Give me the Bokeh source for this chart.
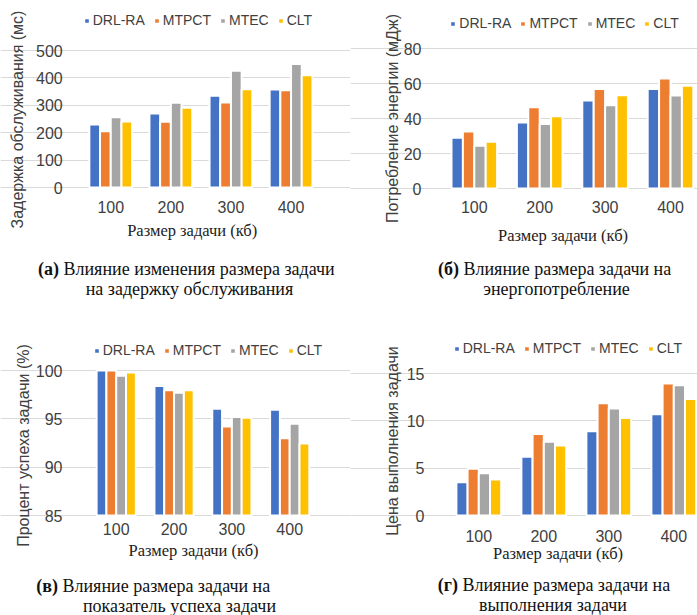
from bokeh.plotting import figure
from bokeh.models import (Range1d, FixedTicker, Legend, LegendItem, ColumnDataSource, Label)
from bokeh.transform import dodge
from bokeh.layouts import column, row
from bokeh.embed import file_html
from bokeh.resources import INLINE

sizes = [100, 200, 300, 400]
series = ["DRL-RA", "MTPCT", "MTEC", "CLT"]
colors = ["#4472C4", "#ED7D31", "#A5A5A5", "#FFC000"]

delay_drl = [230, 270, 335, 358]
delay_mtpct = [205, 240, 310, 355]
delay_mtec = [256, 309, 426, 451]
delay_clt = [241, 291, 359, 410]

energy_drl = [29.0, 37.7, 50.3, 56.8]
energy_mtpct = [32.6, 46.5, 56.8, 62.9]
energy_mtec = [24.4, 36.8, 47.6, 53.1]
energy_clt = [26.7, 41.3, 53.3, 58.7]

success_drl = [100.0, 98.4, 96.05, 95.95]
success_mtpct = [100.0, 97.95, 94.2, 93.0]
success_mtec = [99.45, 97.7, 95.2, 94.5]
success_clt = [99.8, 97.95, 95.1, 92.45]

cost_drl = [3.5, 6.2, 8.9, 10.7]
cost_mtpct = [4.95, 8.6, 11.85, 13.95]
cost_mtec = [4.45, 7.8, 11.3, 13.75]
cost_clt = [3.8, 7.4, 10.3, 12.3]

x_title = "Размер задачи (кб)"

SANS = "Liberation Sans"
SERIF = "Liberation Serif"
TXT = "#404040"
GRID = "#D9D9D9"


def panel(vals, ylab, yticks, cap_bold, cap1, cap2, g):
    W, H = g["W"], g["H"]
    # pixel -> data mapping (pixels measured from the panel's top-left)
    a, s = g["a"], g["s"]                      # x: data 50 at px a, 100 data per s px
    (v0, py0), (v1, py1) = g["yb"], g["yt"]    # y: value v0 at py0, v1 at py1
    k = (v1 - v0) / (py0 - py1)
    xr = Range1d(50 - a * 100 / s, 50 + (W - a) * 100 / s)
    yr = Range1d(v0 - (H - py0) * k, v1 + py1 * k)
    xd = lambda px: 50 + (px - a) * 100 / s

    p = figure(width=W, height=H, x_range=xr, y_range=yr, output_backend="svg",
               toolbar_location=None, min_border=0)
    p.outline_line_color = None
    src = ColumnDataSource(dict(size=sizes, s0=vals[0], s1=vals[1], s2=vals[2], s3=vals[3]))
    bw = g["pitch"] * 100 / s
    rends = []
    for i, c in enumerate(colors):
        r = p.vbar(x=dodge("size", (i - 1.5) * bw), top="s%d" % i, bottom=v0,
                   width=bw, source=src, fill_color=c, line_color="white", line_width=2)
        rends.append(r)

    p.xgrid.grid_line_color = None
    p.ygrid.ticker = FixedTicker(ticks=yticks)
    p.ygrid.grid_line_color = GRID
    p.ygrid.bounds = (xd(g["gx"][0]), xd(g["gx"][1]))

    xa, ya = p.xaxis[0], p.yaxis[0]
    xa.fixed_location = v0
    xa.ticker = FixedTicker(ticks=sizes)
    ya.fixed_location = xd(g["gx"][0])
    ya.ticker = FixedTicker(ticks=yticks)
    for ax in (xa, ya):
        ax.axis_line_color = None
        ax.major_tick_line_color = None
        ax.minor_tick_line_color = None
        ax.major_label_text_font = SANS
        ax.major_label_text_font_size = "16px"
        ax.major_label_text_color = TXT
    xa.major_label_standoff = g["xs"]
    ya.major_label_standoff = g["ys"]

    # axis titles
    yx, yy = g["ytitle"]
    p.add_layout(Label(x=yx, y=H - yy, x_units="screen", y_units="screen", text=ylab,
                       angle=90, angle_units="deg", text_font=SANS, text_font_size="16px",
                       text_color=TXT, text_align="center", text_baseline="middle"))
    tx, ty = g["xtitle"]
    p.add_layout(Label(x=tx, y=H - ty, x_units="screen", y_units="screen", text=x_title,
                       text_font=SERIF, text_font_size="16.5px", text_color="#222222",
                       text_align="center", text_baseline="middle"))

    # legend
    lx, lc = g["leg"]
    leg = Legend(items=[LegendItem(label=sname, renderers=[r]) for sname, r in zip(series, rends)],
                 orientation="horizontal", location=(lx, H - lc - 8),
                 glyph_width=7, glyph_height=7, label_standoff=3, spacing=8,
                 padding=0, margin=0, border_line_color=None, background_fill_alpha=0,
                 label_text_font=SANS, label_text_font_size="14px",
                 label_text_color=TXT, label_height=16)
    p.add_layout(leg)

    # caption
    nx, y1, cx, y2 = g["cap"]
    p.add_layout(Label(x=nx - 4.5, y=H - y1, x_units="screen", y_units="screen", text=cap_bold,
                       text_font=SERIF, text_font_size="18px", text_font_style="bold",
                       text_align="right", text_baseline="middle", text_color="#111111"))
    p.add_layout(Label(x=nx, y=H - y1, x_units="screen", y_units="screen", text=cap1,
                       text_font=SERIF, text_font_size="18px", text_align="left",
                       text_baseline="middle", text_color="#111111"))
    p.add_layout(Label(x=cx, y=H - y2, x_units="screen", y_units="screen", text=cap2,
                       text_font=SERIF, text_font_size="18px", text_align="center",
                       text_baseline="middle", text_color="#111111"))
    return p


p1 = panel([delay_drl, delay_mtpct, delay_mtec, delay_clt], "Задержка обслуживания (мс)",
           [0, 100, 200, 300, 400, 500], "(а)", "Влияние изменения размера задачи",
           "на задержку обслуживания",
           dict(W=350, H=312, a=80.2, s=60.1, yb=(0, 187), yt=(500, 50), pitch=10.7,
                gx=(80.2, 321), xs=7, ys=12, ytitle=(17, 119), xtitle=(191.7, 230),
                leg=(82.7, 20), cap=(63, 268, 189, 288)))
p2 = panel([energy_drl, energy_mtpct, energy_mtec, energy_clt], "Потребление энергии (мДж)",
           [0, 20, 40, 60, 80], "(б)", "Влияние размера задачи на", "энергопотребление",
           dict(W=347, H=312, a=91.1, s=65.4, yb=(0, 188), yt=(80, 48), pitch=11.4,
                gx=(90, 347), xs=6, ys=13, ytitle=(41.7, 118), xtitle=(212.5, 235),
                leg=(99.3, 23), cap=(113, 268, 206, 288)))
p3 = panel([success_drl, success_mtpct, success_mtec, success_clt], "Процент успеха задачи (%)",
           [85, 90, 95, 100], "(в)", "Влияние размера задачи на", "показатель успеха задачи",
           dict(W=350, H=303, a=86.8, s=57.83, yb=(85, 203), yt=(100, 58), pitch=9.8,
                gx=(89, 320), xs=1, ys=21, ytitle=(23.3, 133), xtitle=(193, 238),
                leg=(92.7, 38), cap=(62, 273, 179, 293)))
p4 = panel([cost_drl, cost_mtpct, cost_mtec, cost_clt], "Цена выполнения задачи",
           [0, 5, 10, 15], "(г)", "Влияние размера задачи на", "выполнения задачи",
           dict(W=347, H=303, a=95.8, s=65.0, yb=(0, 203), yt=(15, 61), pitch=11.2,
                gx=(95, 347), xs=8, ys=15, ytitle=(41.7, 128.5), xtitle=(207.5, 241),
                leg=(102.7, 36.3), cap=(112, 272, 202.5, 292)))

layout = column(row(p1, p2), row(p3, p4))
open("out.html", "w").write(file_html(layout, INLINE))
